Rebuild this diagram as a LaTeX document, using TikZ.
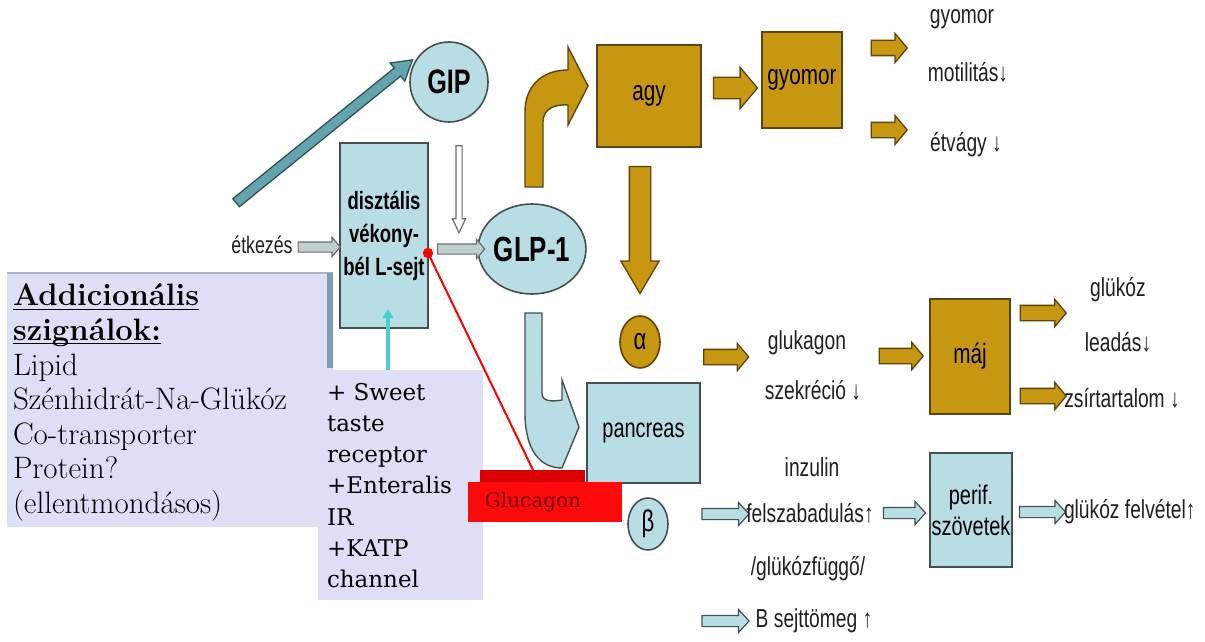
\documentclass[tikz,border=0pt]{standalone}
\usepackage{fontspec}
\usetikzlibrary{shapes.arrows,shapes.geometric,arrows.meta}
\newfontfamily\nar[FakeStretch=0.74]{Liberation Sans}
\newfontfamily\dvs{DejaVu Serif}
\newcommand\ulword[1]{\setbox0\hbox{#1}\rlap{\rule[-4pt]{\wd0}{1.3pt}}\box0}
\definecolor{lblue}{RGB}{184,221,229}
\definecolor{lbline}{RGB}{70,80,82}
\definecolor{gold}{RGB}{199,151,18}
\definecolor{goldline}{RGB}{92,70,12}
\definecolor{lav}{RGB}{222,222,247}
\definecolor{lavbar}{RGB}{122,160,178}
\definecolor{lavedge}{RGB}{170,180,200}
\definecolor{tealfill}{RGB}{100,164,174}
\definecolor{tealline}{RGB}{50,82,88}
\definecolor{greyfill}{RGB}{192,206,206}
\definecolor{greyline}{RGB}{105,112,112}
\definecolor{cyanline}{RGB}{72,208,208}
\definecolor{glucred}{RGB}{255,10,10}
\definecolor{glucdark}{RGB}{218,0,0}
\definecolor{glucink}{RGB}{110,0,0}
\definecolor{ink}{RGB}{32,32,32}
\begin{document}
\begin{tikzpicture}[x=1pt,y=-1pt,
  every node/.style={inner sep=0pt,outer sep=0pt},
  lbbox/.style={draw=lbline,line width=1.6pt,fill=lblue,anchor=north west,align=center,text=black},
  gdbox/.style={draw=goldline,line width=1.6pt,fill=gold,anchor=north west,align=center,text=black},
  lbcirc/.style={ellipse,draw=lbline,line width=1.6pt,fill=lblue,text=black},
  gdcirc/.style={ellipse,draw=goldline,line width=1.6pt,fill=gold,text=black},
  lab/.style={font=\nar\fontsize{26}{30}\selectfont,text=ink,align=center},
  boxlab/.style={font=\nar\fontsize{28}{30}\selectfont},
  % block arrow: {length}{shaft width}{head extend}{tip angle}
  blk/.style n args={4}{single arrow,minimum height=#1,inner xsep=0pt,inner ysep=#2/2,
    single arrow head extend=#3,single arrow tip angle=#4},
  goldarr/.style n args={4}{blk={#1}{#2}{#3}{#4},draw=goldline,line width=1.3pt,fill=gold},
  bluearr/.style n args={4}{blk={#1}{#2}{#3}{#4},draw=lbline,line width=1.2pt,fill=lblue},
  greyarr/.style n args={4}{blk={#1}{#2}{#3}{#4},draw=greyline,line width=1.2pt,fill=greyfill},
]
\useasboundingbox (0,0) rectangle (1205,642);
\fill[white] (0,0) rectangle (1205,642);

% ---- side boxes with additional signals
\node[fill=lav,minimum width=326,minimum height=254,anchor=north west] (addbox) at (7,273) {};
\draw[lavedge,line width=1.2pt] (addbox.north west) -- (addbox.north east);
\node[fill=lavbar,minimum width=6,minimum height=95,anchor=north east] (addbar) at (addbox.north east) {};
\node[fill=lav,minimum width=165,minimum height=230,anchor=north west] (rcbox) at (318,370) {};
\node[anchor=north west,align=left,font=\fontsize{31}{34.6}\selectfont,text=black] (addtxt) at (13,284)
  {\ulword{\bfseries Addicionális}\\\ulword{\bfseries szignálok:}\\Lipid\\Szénhidrát-Na-Glükóz\\Co-transporter\\Protein?\\(ellentmondásos)};
\node[anchor=north west,align=left,font=\dvs\fontsize{23}{31.3}\selectfont,text=black] (rctxt) at (327,383)
  {+ Sweet\\taste\\receptor\\+Enteralis\\IR\\+KATP\\channel};

% ---- L-cell, GIP, GLP-1
\node[lbbox,minimum width=88,minimum height=185,font=\nar\bfseries\fontsize{25}{33}\selectfont] (dist) at (340,143)
  {disztális\\vékony-\\bél L-sejt};
\node[lbcirc,minimum width=78,minimum height=80,font=\nar\bfseries\fontsize{34}{34}\selectfont] (gip) at (449,82) {GIP};
\node[lbcirc,minimum width=85,minimum height=90,font=\nar\bfseries\fontsize{35}{35}\selectfont] (glp) at (532,249) {GLP-1};

\node[lab,font=\nar\fontsize{24}{28}\selectfont] (etk) at (262,245) {étkezés};
\node[greyarr={42}{9}{4.5}{100}] (etkarr) at (317,247) {};
\node[greyarr={47}{9}{4.5}{100}] (distarr) at (459,249) {};
\node[blk={87}{5}{3.5}{50},draw=greyline,line width=1.2pt,fill=white,rotate=-90] (gipdown) at (459,186) {};
\node[blk={227}{9}{6.5}{62},draw=tealline,line width=1.3pt,fill=tealfill,rotate=39] (diag) at (321,134) {};

% sweet taste receptor input
\coordinate (cyanbase) at (388,370);
\coordinate (cyantip) at (388,309);
\draw[cyanline,line width=3.5pt,-{Triangle[width=11pt,length=9pt]}] (cyanbase) -- (cyantip);

% ---- brain branch
\filldraw[fill=gold,draw=goldline,line width=1.4pt]
  (525,187) -- (525,112) .. controls (525,86) and (542,70) .. (568,70) -- (568,47) -- (588,86)
  -- (568,125) -- (568,105) .. controls (556,104) and (543,108) .. (543,122) -- (543,187) -- cycle;
\node[gdbox,minimum width=104,minimum height=102,boxlab] (agy) at (597,45) {agy};
\node[gdbox,minimum width=80,minimum height=96,boxlab] (gyomor) at (762,32) {gyomor};
\node[goldarr={44}{20}{10}{100}] (agyarr) at (731,88) {};
\node[goldarr={36}{14}{7}{100}] (gyup) at (886,48) {};
\node[goldarr={36}{14}{7}{100}] (gydn) at (886,130) {};
\node[lab] (gyt) at (962,19) {gyomor};
\node[lab] (motil) at (968,72) {motilitás↓};
\node[lab] (etv) at (966,145) {étvágy ↓};
\node[goldarr={127}{20}{8.5}{61},rotate=-90] (agydown) at (640,221) {};

% ---- pancreas branch
\filldraw[fill=lblue,draw=lbline,line width=1.4pt]
  (525,313) -- (542,313) -- (542,393) .. controls (542,401) and (550,402) .. (562,400) -- (562,380)
  -- (579,427) -- (562,468) .. controls (540,468) and (525,450) .. (525,413) -- cycle;
\node[lbbox,minimum width=113,minimum height=100,font=\nar\fontsize{27}{30}\selectfont] (panc) at (587,383) {pancreas};
\node[gdcirc,minimum width=40,minimum height=52,font=\nar\fontsize{30}{30}\selectfont] (alpha) at (640,342) {α};
\node[lbcirc,minimum width=40,minimum height=52,font=\nar\fontsize{30}{30}\selectfont] (beta) at (648,524) {β};

% glucagon marker with its link to the L-cell
\node[fill=glucdark,minimum width=105,minimum height=12,anchor=north west] (glucup) at (480,470) {};
\node[fill=glucred,minimum width=154,minimum height=40,anchor=north west] (gluc) at (468,482) {};
\node[font=\dvs\fontsize{20}{20}\selectfont,text=glucink] (gluctxt) at (533,502) {Glucagon};
\node[circle,fill=red,minimum size=10] (rdot) at (428,253) {};
\coordinate (redend) at (533,470);
\draw[red,line width=2pt] (rdot.center) -- (redend);
\node[circle,fill=red,minimum size=10] at (rdot) {};

% ---- alpha cell effects
\node[goldarr={45}{14}{6}{100}] (aarr) at (723,357) {};
\node[lab] (glukagon) at (807,343) {glukagon};
\node[lab] (szekr) at (813,390) {szekréció ↓};
\node[goldarr={44}{14}{6}{100}] (glarr) at (898,356) {};
\node[gdbox,minimum width=80,minimum height=115,boxlab] (maj) at (930,299) {máj};
\node[goldarr={46}{14}{6}{100}] (majup) at (1040,313) {};
\node[goldarr={46}{14}{6}{100}] (majdn) at (1040,396) {};
\node[lab] (gluk1) at (1118,290) {glükóz};
\node[lab] (leadas) at (1118,342) {leadás↓};
\node[lab] (zsir) at (1122,398) {zsírtartalom ↓};

% ---- beta cell effects
\node[lab] (inz) at (812,467) {inzulin};
\node[bluearr={47}{10}{6}{95}] (barr) at (723,514) {};
\node[lab] (felsz) at (810,513) {felszabadulás↑};
\node[bluearr={42}{10}{6}{95}] (farr) at (902,513) {};
\node[lbbox,minimum width=82,minimum height=114,font=\nar\fontsize{27}{31}\selectfont] (perif) at (930,453) {perif.\\szövetek};
\node[bluearr={46}{10}{6}{95}] (parr) at (1040,512) {};
\node[lab,anchor=west] (gfelv) at (1064,512) {glükóz felvétel↑};
\node[lab] (gfugg) at (808,569) {/glükózfüggő/};
\node[bluearr={47}{10}{6}{95}] (bsarr) at (723,621) {};
\node[lab] (bsejt) at (814,621) {B sejttömeg ↑};
\end{tikzpicture}
\end{document}
